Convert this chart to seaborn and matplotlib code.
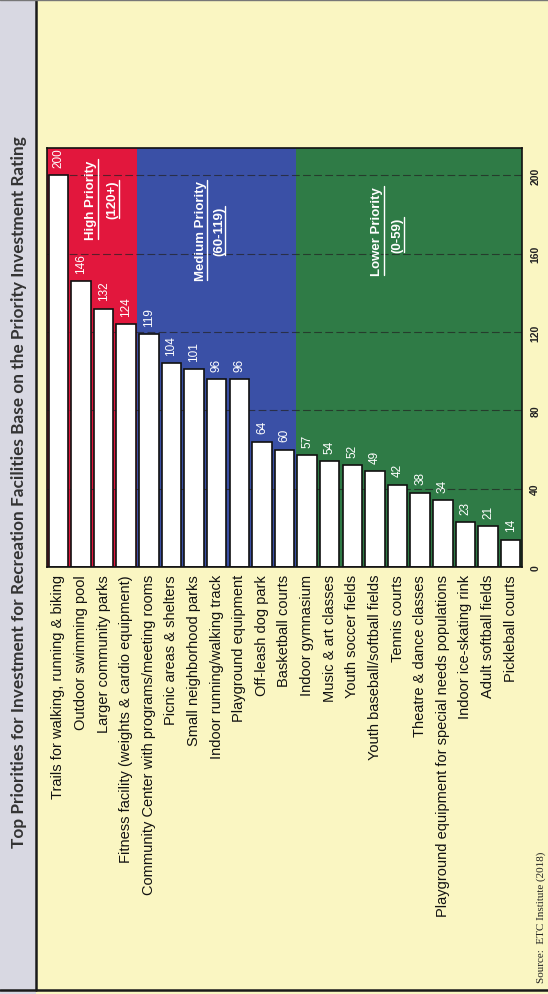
import pandas as pd
import matplotlib
matplotlib.use("Agg")
import matplotlib.pyplot as plt
import seaborn as sns
from matplotlib.patches import Rectangle
from matplotlib.lines import Line2D

# Data
facilities = [
    "Trails for walking, running & biking",
    "Outdoor swimming pool",
    "Larger community parks",
    "Fitness facility (weights & cardio equipment)",
    "Community Center with programs/meeting rooms",
    "Picnic areas & shelters",
    "Small neighborhood parks",
    "Indoor running/walking track",
    "Playground equipment",
    "Off-leash dog park",
    "Basketball courts",
    "Indoor gymnasium",
    "Music & art classes",
    "Youth soccer fields",
    "Youth baseball/softball fields",
    "Tennis courts",
    "Theatre & dance classes",
    "Playground equipment for special needs populations",
    "Indoor ice-skating rink",
    "Adult softball fields",
    "Pickleball courts",
]
ratings = [200, 146, 132, 124, 119, 104, 101, 96, 96, 64, 60,
           57, 54, 52, 49, 42, 38, 34, 23, 21, 14]

# priority groups: name, range label, number of facilities in group
group_names = ["High Priority", "Medium Priority", "Lower Priority"]
group_ranges = ["(120+)", "(60-119)", "(0-59)"]
group_sizes = [4, 7, 10]
group_colors = ["#e2173d", "#3a50a6", "#2f7b46"]

title = ("Top Priorities for Investment for Recreation Facilities "
         "Base on the Priority Investment Rating")
source = "Source:  ETC Institute (2018)"

df = pd.DataFrame({"Facility": facilities, "Rating": ratings})

W, H = 548, 995
yellow = "#faf6c2"

sns.set_style("white")
plt.rcParams["font.family"] = ["Liberation Sans", "DejaVu Sans"]

fig = plt.figure(figsize=(W / 100, H / 100), dpi=100)
fig.patch.set_facecolor(yellow)

# title band on the left + frame lines
fig.add_artist(Rectangle((0, 0), 36 / W, 1, transform=fig.transFigure,
                         facecolor="#d8d8e2", edgecolor="none", zorder=0))
fig.add_artist(Line2D([36 / W, 36 / W], [4 / H, 1], transform=fig.transFigure,
                      color="#1a1a1a", lw=1.8))
fig.add_artist(Line2D([0, 1], [4 / H, 4 / H], transform=fig.transFigure,
                      color="#1a1a1a", lw=1.8))
fig.add_artist(Line2D([0, 1], [1 - 1 / H, 1 - 1 / H], transform=fig.transFigure,
                      color="#777777", lw=1.0))

fig.text(19 / W, 0.505, title, rotation=90, ha="center", va="center",
         fontsize=12.4, fontweight="bold", color="#333333", family="Lato")

ax = fig.add_axes([47 / W, (H - 568) / H, (522 - 47) / W, (568 - 149) / H])
ax.set_facecolor(yellow)

# coloured background per priority group
start = -0.5
for size, col in zip(group_sizes, group_colors):
    ax.axvspan(start, start + size, color=col, lw=0, zorder=0)
    start += size

sns.barplot(data=df, x="Facility", y="Rating", color="white",
            edgecolor="#111111", linewidth=1.2, width=0.86,
            saturation=1, ax=ax, zorder=3)

ax.set_ylim(0, 214)
ax.set_xlim(-0.5, len(facilities) - 0.5)
ax.set_yticks([0, 40, 80, 120, 160, 200])
for v in [40, 80, 120, 160, 200]:
    ax.axhline(v, color="#222222", lw=0.8, ls=(0, (7, 3)), alpha=0.7, zorder=1)

ax.yaxis.tick_right()
ax.tick_params(axis="y", length=0, pad=6, labelsize=7.5, labelcolor="#222222")
for lbl in ax.get_yticklabels():
    lbl.set_rotation(90)
    lbl.set_fontweight("bold")
    lbl.set_va("center")
ax.tick_params(axis="x", length=0, pad=5, labelsize=10.5, labelcolor="#111111")
ax.set_xticks(range(len(facilities)))
ax.set_xticklabels(facilities, rotation=90)
ax.set_xlabel("")
ax.set_ylabel("")
for s in ax.spines.values():
    s.set_color("#111111")
    s.set_linewidth(1.2)
    s.set_visible(True)
    s.set_zorder(5)

ax.bar_label(ax.containers[0], labels=[str(v) for v in ratings], padding=6,
             rotation=90, color="white", fontsize=8.5, clip_on=True)

# group annotations (white, bold, underlined)
label_pos = [(1.45, 188, 2.4, 188), (6.3, 172, 7.1, 172), (14.1, 172, 15.0, 170)]
texts = []
for (x1, y1, x2, y2), name, rng in zip(label_pos, group_names, group_ranges):
    texts.append(ax.text(x1, y1, name, rotation=90, ha="center", va="center",
                         color="white", fontsize=9.5, fontweight="bold", zorder=6))
    texts.append(ax.text(x2, y2, rng, rotation=90, ha="center", va="center",
                         color="white", fontsize=9.5, fontweight="bold", zorder=6))

fig.text(541 / W, 12 / H, source, rotation=90, ha="center", va="bottom",
         fontsize=8, color="#222222", family="Liberation Serif")

fig.canvas.draw()
renderer = fig.canvas.get_renderer()
for t in texts:
    bb = t.get_window_extent(renderer)
    x = (bb.x1 + 0.5) / W
    fig.add_artist(Line2D([x, x], [bb.y0 / H, bb.y1 / H], transform=fig.transFigure,
                          color="white", lw=1.0, zorder=7))

fig.savefig("out.png", dpi=100, facecolor=fig.get_facecolor())
